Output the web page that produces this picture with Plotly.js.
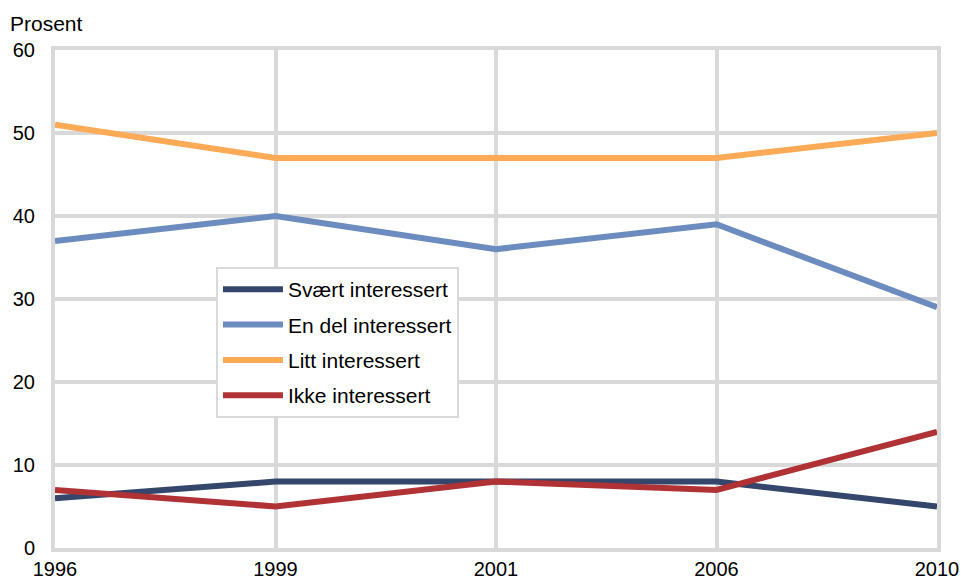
<!DOCTYPE html>
<html>
<head>
<meta charset="utf-8">
<script src="https://cdn.plot.ly/plotly-3.0.1.min.js"></script>
<style>html,body{margin:0;padding:0;background:#fff}#chart{width:962px;height:581px}</style>
</head>
<body>
<div id="chart"></div>
<script>
const years = ['1996', '1999', '2001', '2006', '2010'];
const svaertInteressert = [6, 8, 8, 8, 5];
const enDelInteressert = [37, 40, 36, 39, 29];
const littInteressert = [51, 47, 47, 47, 50];
const ikkeInteressert = [7, 5, 8, 7, 14];
const yTicks = [0, 10, 20, 30, 40, 50, 60];

const seriesNames = ['Svært interessert', 'En del interessert', 'Litt interessert', 'Ikke interessert'];
const seriesColors = ['#34466b', '#6c8bbf', '#ffaa57', '#b03235'];
const seriesValues = [svaertInteressert, enDelInteressert, littInteressert, ikkeInteressert];

const traces = seriesValues.map((vals, i) => ({
  type: 'scatter', mode: 'lines', x: years, y: vals, name: seriesNames[i],
  legendgroup: 'g' + i,
  line: {color: seriesColors[i], width: 6}
}));

const grid = '#d9d9d9';
const layout = {
  width: 962, height: 581,
  margin: {l: 55, r: 25, t: 50, b: 33},
  paper_bgcolor: '#fff', plot_bgcolor: '#fff',
  font: {family: 'Liberation Sans, Arial, sans-serif', size: 20, color: '#000'},
  showlegend: true,
  legend: {
    x: 0.1825, y: 0.564, xanchor: 'left', yanchor: 'top',
    bgcolor: '#fff', bordercolor: grid, borderwidth: 2,
    font: {size: 21}, traceorder: 'grouped', tracegroupgap: 5, itemwidth: 60
  },
  xaxis: {
    type: 'category', categoryorder: 'array', categoryarray: years,
    range: [0, 4], showgrid: true, gridcolor: grid, gridwidth: 4,
    showline: true, linecolor: grid, linewidth: 4, mirror: true,
    zeroline: false, ticks: '', tickfont: {size: 20}, fixedrange: true
  },
  yaxis: {
    range: [0, 60], tickvals: yTicks, ticktext: yTicks.map(String),
    showgrid: true, gridcolor: grid, gridwidth: 4,
    showline: true, linecolor: grid, linewidth: 4, mirror: true,
    zeroline: false, ticks: '', ticklabelstandoff: 12, tickfont: {size: 20}, fixedrange: true
  },
  annotations: [{
    text: 'Prosent', xref: 'paper', yref: 'paper', x: 0, y: 1,
    xanchor: 'left', yanchor: 'bottom', xshift: -47, yshift: 13,
    showarrow: false, font: {size: 21}
  }]
};

Plotly.newPlot('chart', traces, layout, {displayModeBar: false, staticPlot: true});
</script>
</body>
</html>
